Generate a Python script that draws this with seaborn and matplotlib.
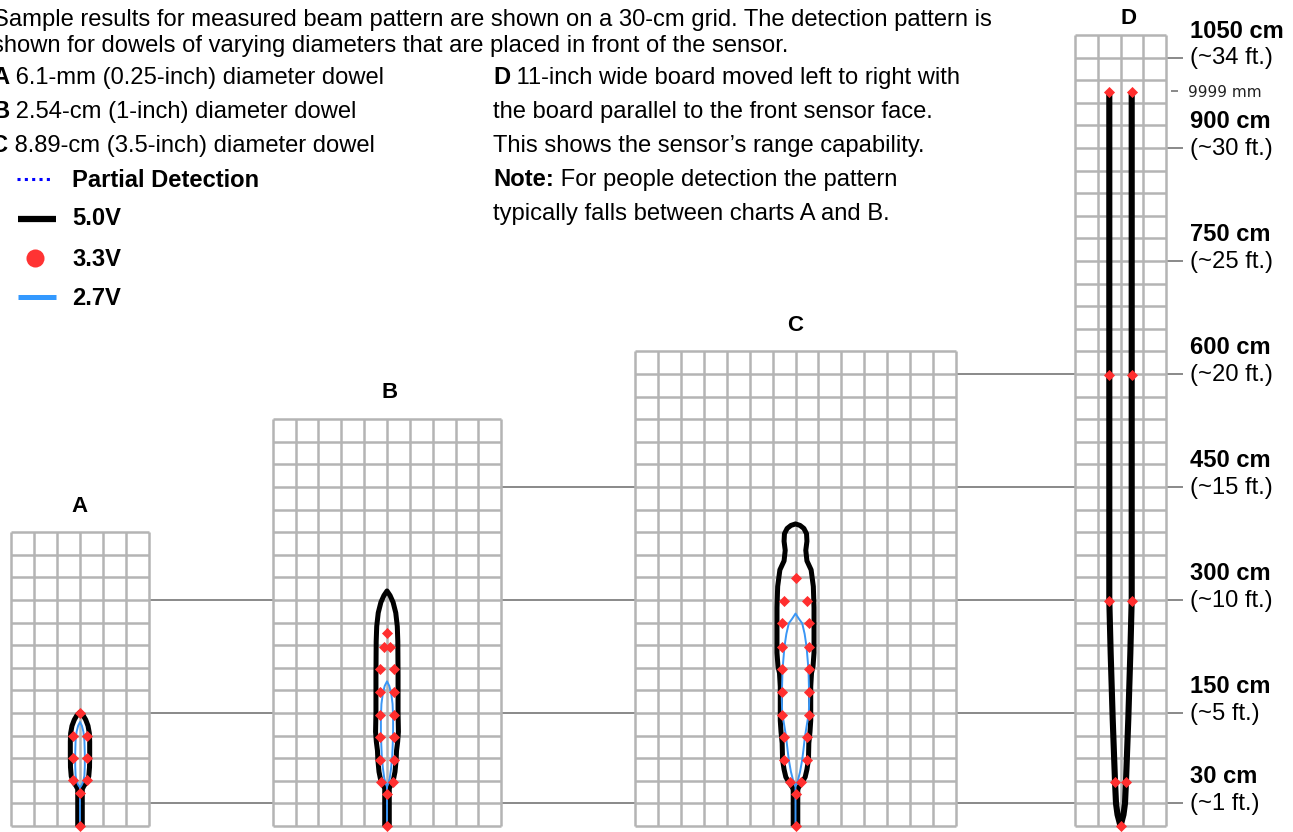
import numpy as np
import matplotlib
matplotlib.use("Agg")
import matplotlib.pyplot as plt
import matplotlib.transforms as mtransforms
import seaborn as sns

# ------------------------------------------------------------------ data
chart_names = ["A", "B", "C", "D"]
grid_cols = [6, 10, 14, 4]          # 30-cm cells across
grid_rows = [13, 18, 21, 35]        # 30-cm cells in front of the sensor
CELL_CM = 30

# 5.0 V outlines: right half (distance cm, half-width cm), from far tip to sensor
a_v50_y = [151, 147, 141, 133, 123, 112, 95, 78, 66, 58, 53, 49, 0]
a_v50_x = [0, 4.0, 7.5, 10.5, 12.3, 12.7, 12.7, 12.5, 11.5, 8.5, 5.0, 3.0, 3.0]
a_v27_y = [138, 133, 125, 113, 96, 80, 67, 59, 54, 51]
a_v27_x = [0, 2.5, 4.5, 5.8, 6.3, 6.3, 5.8, 4.3, 2.0, 0]
a_dot_x = [0, -9.6, 9.6, -9.6, 9.6, -9.6, 9.6, 0, 0]
a_dot_y = [150, 120, 120, 90, 90, 61, 61, 44, 0]

b_v50_y = [312, 306, 297, 283, 265, 245, 200, 150, 125, 112, 100, 88, 72, 62, 55, 50, 0]
b_v50_x = [0, 4.0, 8.0, 11.5, 13.5, 14.2, 14.5, 14.5, 15.0, 14.0, 12.5, 12.0, 10.5, 8.5, 5.5, 3.0, 3.0]
b_v27_y = [192, 186, 176, 162, 145, 125, 108, 92, 76, 63, 56, 52]
b_v27_x = [0, 3.0, 5.5, 7.3, 8.0, 8.0, 7.5, 6.8, 5.3, 3.5, 1.5, 0]
b_dot_x = [0, -4.4, 4.4, -9.0, 9.0, -9.6, 9.6, -9.6, 9.6, -9.6, 9.6, -9.6, 9.6, -8.0, 8.0, 0, 0]
b_dot_y = [256, 238, 238, 208, 208, 178, 178, 148, 148, 118, 118, 88, 88, 59, 59, 43, 0]

c_v50_y = [401, 399, 395, 388, 378, 366, 352, 340, 318, 290, 230, 212, 203, 185,
           140, 125, 110, 88, 75, 65, 57, 51, 48, 0]
c_v50_x = [0, 6.0, 11.0, 14.5, 15.0, 13.5, 15.0, 20.5, 23.4, 24.3, 24.3, 23.0, 21.0, 20.0,
           20.0, 19.0, 17.5, 17.0, 15.0, 12.7, 8.0, 4.0, 3.0, 3.0]
c_v27_y = [282, 275, 269, 255, 238, 220, 208, 190, 170, 150, 135, 118, 100, 88, 72, 62, 56, 54]
c_v27_x = [0, 4.5, 8.8, 12.0, 14.5, 16.0, 17.0, 17.5, 18.0, 17.5, 15.0, 12.3, 10.3, 8.8, 6.0, 3.5, 1.5, 0]
c_dot_x = [0, -15.4, 15.4, -18, 18, -18, 18, -18, 18, -18, 18, -18, 18,
           -15.4, 15.4, -15.4, 15.4, -7.7, 7.7, 0, 0]
c_dot_y = [329, 299, 299, 269, 269, 238, 238, 208, 208, 178, 178, 148, 148,
           118, 118, 88, 88, 58, 58, 43, 0]

# D: 11-inch board, two edges meeting at the sensor
d_v50_y = [974, 600, 300, 229, 141, 59, 30, 15, 0]
d_v50_x = [14.7, 14.7, 14.7, 12.9, 10.2, 7.2, 5.9, 3.9, 0]
d_dot_x = [-14.7, 14.7, -14.7, 14.7, -14.7, 14.7, -7.4, 7.4, 0]
d_dot_y = [974, 974, 599, 599, 299, 299, 59, 59, 0]

tick_cm = [1020, 900, 750, 600, 450, 300, 150, 30]
tick_metric = ["1050 cm", "900 cm", "750 cm", "600 cm", "450 cm", "300 cm", "150 cm", "30 cm"]
tick_feet = ["(~34 ft.)", "(~30 ft.)", "(~25 ft.)", "(~20 ft.)", "(~15 ft.)",
             "(~10 ft.)", "(~5 ft.)", "(~1 ft.)"]
max_range_cm = 976
max_range_label = "9999 mm"

intro_lines = [
    [("Sample results for measured beam pattern are shown on a 30-cm grid. The detection pattern is", "normal")],
    [("shown for dowels of varying diameters that are placed in front of the sensor.", "normal")],
    [("A", "bold"), (" 6.1-mm (0.25-inch) diameter dowel", "normal")],
    [("B", "bold"), (" 2.54-cm (1-inch) diameter dowel", "normal")],
    [("C", "bold"), (" 8.89-cm (3.5-inch) diameter dowel", "normal")],
]
note_lines = [
    [("D", "bold"), (" 11-inch wide board moved left to right with", "normal")],
    [("the board parallel to the front sensor face.", "normal")],
    [("This shows the sensor\u2019s range capability.", "normal")],
    [("Note:", "bold"), (" For people detection the pattern", "normal")],
    [("typically falls between charts A and B.", "normal")],
]
legend_labels = ["Partial Detection", "5.0V", "3.3V", "2.7V"]

# ------------------------------------------------------------------ style / layout
sns.set_theme(style="white")
plt.rcParams["font.family"] = ["Liberation Sans", "DejaVu Sans"]
plt.rcParams["text.color"] = "black"

FIG_W, FIG_H, DPI = 1293, 832, 100
KX, KY = 0.762, 0.7533           # pixels per cm
BASE_PX = 826                    # pixel row of the sensor (0 cm)
chart_center_px = [80, 387, 795.5, 1120.5]
title_pos_px = [(80, 512), (390, 398), (795, 331), (1128, 24)]

GRID_C = "#b4b4b4"
BLACK = "#000000"
RED = "#ff2e2e"
BLUE = "#3a96f5"
REF_C = "#6a6a6a"
FS = 17.1

fig = plt.figure(figsize=(FIG_W / DPI, FIG_H / DPI), dpi=DPI)
fig.patch.set_facecolor("white")

bg = fig.add_axes([0, 0, 1, 1])
bg.set_xlim(0, FIG_W)
bg.set_ylim(FIG_H, 0)
bg.axis("off")

axes = []
chart_left_px = []
for name, cols, rows, cx in zip(chart_names, grid_cols, grid_rows, chart_center_px):
    wcm, hcm = cols * CELL_CM, rows * CELL_CM
    wpx, hpx = wcm * KX, hcm * KY
    left = cx - wpx / 2
    chart_left_px.append(left)
    ax = fig.add_axes([left / FIG_W, (FIG_H - BASE_PX) / FIG_H, wpx / FIG_W, hpx / FIG_H])
    ax.set_facecolor("white")
    for s in ax.spines.values():
        s.set_visible(False)
    ax.vlines(np.arange(-wcm / 2, wcm / 2 + 1, CELL_CM), 0, hcm, color=GRID_C, lw=1.8,
              zorder=1, clip_on=False)
    ax.hlines(np.arange(0, hcm + 1, CELL_CM), -wcm / 2, wcm / 2, color=GRID_C, lw=1.8,
              zorder=1, clip_on=False)
    axes.append(ax)


def tip_outline(ys, xs):
    """outline: left side up, over the tip, right side down"""
    px = [-x for x in xs[::-1]] + list(xs[1:])
    py = list(ys[::-1]) + list(ys[1:])
    return px, py


def blue_path(ys, xs):
    px = [0] + [-x for x in xs[::-1]] + list(xs[1:])
    py = [0] + list(ys[::-1]) + list(ys[1:])
    return px, py


patterns = [
    (a_v50_y, a_v50_x, a_v27_y, a_v27_x, a_dot_x, a_dot_y),
    (b_v50_y, b_v50_x, b_v27_y, b_v27_x, b_dot_x, b_dot_y),
    (c_v50_y, c_v50_x, c_v27_y, c_v27_x, c_dot_x, c_dot_y),
]
for ax, (y50, x50, y27, x27, dx, dy) in zip(axes[:3], patterns):
    bx, by = tip_outline(y50, x50)
    sns.lineplot(x=bx, y=by, sort=False, estimator=None, ax=ax, color=BLACK, lw=3.6,
                 solid_joinstyle="round", solid_capstyle="butt", clip_on=False, zorder=3,
                 legend=False)
    ux, uy = blue_path(y27, x27)
    sns.lineplot(x=ux, y=uy, sort=False, estimator=None, ax=ax, color=BLUE, lw=1.4,
                 solid_joinstyle="round", clip_on=False, zorder=4, legend=False)
    sns.scatterplot(x=dx, y=dy, ax=ax, color=RED, marker="D", s=32, linewidth=0,
                    clip_on=False, zorder=5, legend=False)

axD = axes[3]
ddx = [-x for x in d_v50_x] + list(d_v50_x[::-1][1:])
ddy = list(d_v50_y) + list(d_v50_y[::-1][1:])
sns.lineplot(x=ddx, y=ddy, sort=False, estimator=None, ax=axD, color=BLACK, lw=4.4,
             solid_joinstyle="round", solid_capstyle="butt", clip_on=False, zorder=3,
             legend=False)
sns.scatterplot(x=d_dot_x, y=d_dot_y, ax=axD, color=RED, marker="D", s=32, linewidth=0,
                clip_on=False, zorder=5, legend=False)

for ax, cols, rows in zip(axes, grid_cols, grid_rows):
    ax.set_xlim(-cols * CELL_CM / 2, cols * CELL_CM / 2)
    ax.set_ylim(0, rows * CELL_CM)
    ax.set_xticks([])
    ax.set_yticks([])
    ax.set_xlabel("")
    ax.set_ylabel("")

# ------------------------------------------------------------------ reference lines & labels
trans = mtransforms.blended_transform_factory(bg.transData, axD.transData)
TICK_END = 1183
for val in tick_cm:
    first = next(i for i, r in enumerate(grid_rows) if r * CELL_CM > val)
    bg.plot([chart_left_px[first], TICK_END], [val, val], transform=trans, color=REF_C,
            lw=1.1, solid_capstyle="butt", zorder=0)
d_right = chart_left_px[3] + grid_cols[3] * CELL_CM * KX
bg.plot([d_right + 5, TICK_END - 5], [max_range_cm, max_range_cm], transform=trans,
        color=REF_C, lw=1.1, solid_capstyle="butt")

for val, m, f in zip(tick_cm, tick_metric, tick_feet):
    bg.annotate(m, xy=(1190, val), xycoords=trans, xytext=(0, 14.4), textcoords="offset points",
                fontsize=FS, fontweight="bold", ha="left", va="baseline", color="black")
    bg.annotate(f, xy=(1190, val), xycoords=trans, xytext=(0, -4.8), textcoords="offset points",
                fontsize=FS, ha="left", va="baseline", color="black")
bg.annotate(max_range_label, xy=(1188, max_range_cm), xycoords=trans, xytext=(0, -4.6),
            textcoords="offset points", fontsize=11, family="DejaVu Sans", ha="left",
            va="baseline", color="#222222")

for name, (tx, ty) in zip(chart_names, title_pos_px):
    bg.text(tx, ty, name, fontsize=16, fontweight="bold", ha="center", va="baseline",
            color="black")


# ------------------------------------------------------------------ text block
def rich(x, y, parts, size=FS):
    prev = None
    for txt, weight in parts:
        if prev is None:
            prev = bg.text(x, y, txt, fontsize=size, fontweight=weight, ha="left",
                           va="baseline", color="black")
        else:
            prev = bg.annotate(txt, xy=(1, 0), xycoords=prev, fontsize=size, fontweight=weight,
                               ha="left", va="bottom", color="black")


intro_base = [26, 52, 84, 118, 152]
intro_x = [-7, -8, -8, -8, -9]
for parts, x, y in zip(intro_lines, intro_x, intro_base):
    rich(x, y, parts)

note_base = [84, 118, 152, 186, 220]
for parts, y in zip(note_lines, note_base):
    rich(493, y, parts)

# legend
bg.plot([17, 51], [178.5, 178.5], color="#0000ff", lw=2.2, linestyle=(0, (1, 1.4)),
        dash_capstyle="butt")
bg.plot([18, 56], [218.5, 218.5], color=BLACK, lw=4.5, solid_capstyle="butt")
bg.plot([35], [257.5], marker="o", color="#ff3333", markersize=13, markeredgewidth=0)
bg.plot([18, 56], [296.5, 296.5], color="#3399ff", lw=3.6, solid_capstyle="butt")
for lab, y in zip(legend_labels, [187, 225, 266, 305]):
    bg.text(72, y, lab, fontsize=FS, fontweight="bold", ha="left", va="baseline",
            color="black")

fig.savefig("out.png", dpi=DPI, facecolor="white")
